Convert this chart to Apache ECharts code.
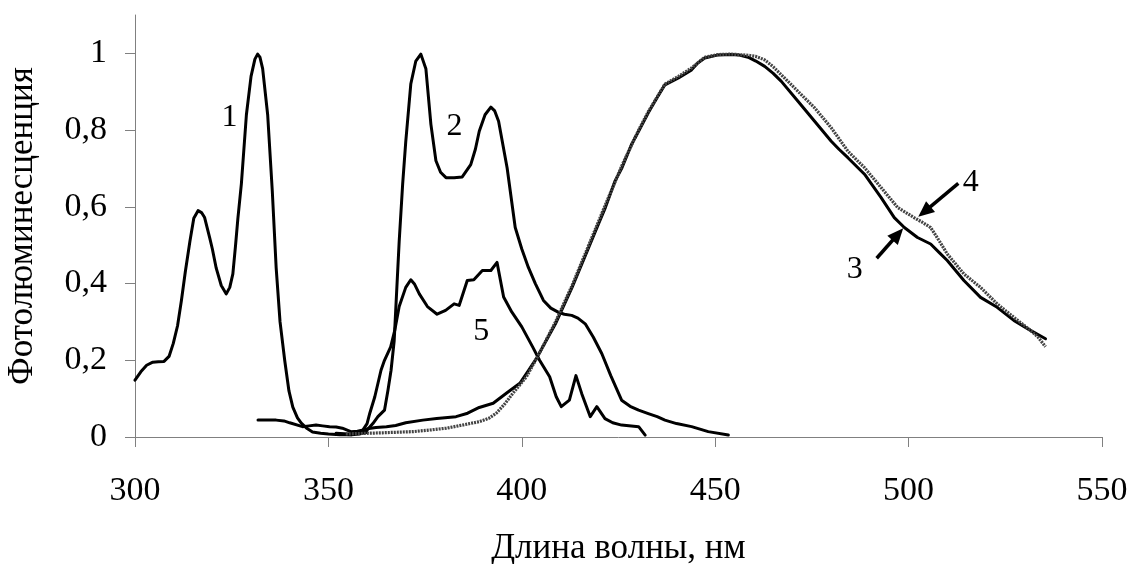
<!DOCTYPE html>
<html>
<head>
<meta charset="utf-8">
<script src="https://cdn.jsdelivr.net/npm/echarts@6/dist/echarts.min.js"></script>
<style>
  html, body { margin: 0; padding: 0; background: #fff; }
  #chart { width: 1131px; height: 564px; }
</style>
</head>
<body>
<div id="chart"></div>
<script>
// Photoluminescence spectra, normalised intensity vs wavelength (nm)
const xTicks = [300, 350, 400, 450, 500, 550];
const yTicks = [0, 0.2, 0.4, 0.6, 0.8, 1];

const curve1 = [[300,0.148],[301.5,0.17],[303,0.187],[304.6,0.195],[306,0.196],[307.5,0.197],[308.8,0.21],[309.9,0.244],[311,0.29],[312,0.356],[313,0.43],[314.2,0.51],[315.2,0.57],[316.3,0.59],[317.2,0.585],[318,0.572],[319.3,0.52],[320,0.49],[321,0.44],[322.3,0.395],[323.6,0.373],[324.5,0.39],[325.3,0.425],[326,0.5],[326.6,0.57],[327.5,0.66],[328.8,0.84],[330,0.94],[331,0.985],[331.7,0.998],[332.3,0.99],[333,0.96],[334.3,0.84],[335.5,0.64],[336.5,0.44],[337.5,0.3],[338.7,0.2],[339.8,0.12],[340.8,0.078],[342,0.05],[343,0.036],[344.5,0.022],[345.9,0.013],[348,0.01],[350,0.008],[353,0.006],[356,0.006],[358,0.008],[360,0.012]];

const curve2 = [[352,0.01],[355,0.008],[358,0.01],[360,0.018],[361.5,0.035],[362.8,0.053],[364.5,0.07],[365.4,0.122],[366.2,0.174],[367,0.25],[368.3,0.51],[369.2,0.66],[370,0.77],[371.3,0.92],[372.6,0.98],[373.9,0.998],[375.2,0.96],[376.5,0.815],[377.8,0.72],[379,0.69],[380.4,0.676],[382.5,0.676],[384.6,0.678],[386.8,0.71],[388,0.75],[389,0.797],[390.5,0.84],[392,0.86],[393,0.85],[394,0.823],[396.2,0.702],[398.3,0.546],[400,0.49],[401.7,0.442],[403.5,0.4],[405.6,0.356],[407.5,0.336],[409.5,0.325],[411,0.32],[412.9,0.317],[414.5,0.31],[416.4,0.295],[418.5,0.26],[420.7,0.217],[423,0.16],[425.8,0.096],[428,0.08],[430.2,0.07],[432.7,0.061],[435,0.053],[437,0.044],[440,0.035],[443.9,0.027],[448.2,0.014],[453.4,0.005]];

const curve3 = [[331.8,0.044],[336.5,0.044],[338.5,0.042],[340,0.037],[343.3,0.027],[345,0.029],[346.8,0.031],[348.5,0.029],[350.3,0.027],[352,0.026],[353.6,0.023],[355.8,0.014],[357.5,0.015],[358.8,0.018],[360.5,0.022],[362.3,0.025],[365,0.027],[367.4,0.03],[370,0.037],[374.4,0.044],[378,0.048],[383,0.053],[386,0.062],[389,0.077],[392.6,0.088],[396,0.114],[399.5,0.14],[401.5,0.17],[403.8,0.205],[408.7,0.295],[413,0.39],[417.3,0.494],[419.8,0.555],[421.6,0.598],[424.1,0.667],[425.9,0.702],[428.4,0.763],[430.2,0.797],[432.7,0.845],[435,0.885],[437,0.918],[440.5,0.936],[443.9,0.957],[445.5,0.975],[447.3,0.988],[450.8,0.996],[454.2,0.997],[456,0.996],[458.5,0.99],[460.5,0.98],[462.8,0.966],[465,0.948],[467.1,0.927],[471.4,0.875],[475.7,0.823],[480,0.771],[482,0.75],[484.3,0.728],[488.6,0.685],[492.9,0.624],[496.3,0.572],[498.9,0.546],[502.3,0.52],[505.7,0.503],[508,0.48],[510,0.46],[514.3,0.408],[518.6,0.364],[522.9,0.338],[527.2,0.304],[531.5,0.278],[535.4,0.256]];

const curve4 = [[354.5,0.008],[358,0.009],[364,0.011],[371.9,0.014],[376,0.018],[380.5,0.023],[384.6,0.031],[389,0.04],[391.5,0.049],[393.4,0.062],[395.5,0.085],[397.7,0.114],[401.2,0.157],[404,0.208],[408.7,0.3],[413,0.395],[417.3,0.5],[421.6,0.605],[425.9,0.708],[430.2,0.8],[432.7,0.848],[437,0.92],[440.5,0.94],[443.9,0.962],[447.3,0.99],[450.8,0.997],[454.2,0.998],[458.5,0.995],[460.5,0.992],[462.8,0.983],[465,0.965],[467.1,0.944],[471.4,0.901],[475.7,0.858],[480,0.806],[484.3,0.745],[488.6,0.702],[492.9,0.65],[497.2,0.598],[501.4,0.572],[503.5,0.56],[505.7,0.546],[508,0.51],[510,0.477],[514.3,0.425],[518.6,0.39],[522.9,0.347],[527.2,0.312],[531.5,0.278],[533.5,0.26],[535.4,0.235]];

const curve5 = [[352,0.008],[356,0.006],[358.9,0.018],[360,0.035],[360.7,0.062],[362,0.105],[363.6,0.174],[364.5,0.2],[366.1,0.235],[367.2,0.28],[368.3,0.34],[370,0.39],[371.3,0.41],[372.3,0.398],[373.5,0.373],[375.6,0.34],[378.1,0.32],[380.3,0.33],[382.5,0.347],[383.8,0.343],[385,0.38],[385.9,0.408],[387.6,0.41],[389.8,0.434],[392,0.434],[393.6,0.455],[395.3,0.365],[397.4,0.326],[400,0.287],[402.8,0.235],[404.6,0.2],[407.2,0.157],[408.9,0.105],[410.2,0.079],[412.3,0.096],[414,0.16],[415.5,0.113],[417.7,0.053],[419.4,0.079],[421.5,0.048],[423.5,0.037],[425.8,0.031],[430.2,0.027],[431.9,0.005]];

// curve numbers, placed in data units
const curveTags = ['1', '2', '3', '4', '5'];
const curveTagX = [324.4, 382.6, 486.1, 516.1, 389.5];
const curveTagY = [0.832, 0.81, 0.4375, 0.663, 0.276];

// pointer arrows for curves 3 and 4: [tailX, tailY, tipX, tipY]
const arrow3 = [491.75, 0.466, 498.6, 0.544];
const arrow4 = [512.85, 0.661, 502.5, 0.574];

const FONT = '"Liberation Serif", "Times New Roman", serif';
const AXIS_GREY = '#808080';

const chart = echarts.init(document.getElementById('chart'), null, { renderer: 'canvas' });

const solid = (data) => ({
  type: 'line',
  data: data,
  showSymbol: false,
  symbol: 'none',
  smooth: false,
  silent: true,
  lineStyle: { color: '#000', width: 3, join: 'round', cap: 'round' },
  z: 3
});

chart.setOption({
  animation: false,
  backgroundColor: '#fff',
  grid: { left: 135, right: 29, top: 15, bottom: 127, containLabel: false, outerBoundsMode: 'none' },
  xAxis: {
    type: 'value',
    min: 300,
    max: 550,
    interval: 50,
    name: 'Длина волны, нм',
    nameLocation: 'middle',
    nameGap: 94,
    nameTextStyle: { fontFamily: FONT, fontSize: 35, color: '#000' },
    axisLine: { lineStyle: { color: AXIS_GREY, width: 1 } },
    axisTick: { show: true, inside: false, length: 10, lineStyle: { color: AXIS_GREY, width: 1 } },
    axisLabel: {
      fontFamily: FONT, fontSize: 34, color: '#000', margin: 37,
      customValues: xTicks
    },
    splitLine: { show: false }
  },
  yAxis: {
    type: 'value',
    min: 0,
    max: 1.1,
    interval: 0.2,
    name: 'Фотолюминесценция',
    nameLocation: 'middle',
    nameGap: 95,
    nameTextStyle: { fontFamily: FONT, fontSize: 35, color: '#000' },
    axisLine: { show: true, lineStyle: { color: AXIS_GREY, width: 1 } },
    axisTick: { show: true, inside: false, length: 10, lineStyle: { color: AXIS_GREY, width: 1 }, customValues: yTicks },
    axisLabel: {
      fontFamily: FONT, fontSize: 34, color: '#000', margin: 28,
      customValues: yTicks,
      formatter: (v) => String(Math.round(v * 10) / 10).replace('.', ',')
    },
    splitLine: { show: false }
  },
  series: [
    solid(curve1),
    solid(curve2),
    solid(curve3),
    {
      type: 'line',
      data: curve4,
      showSymbol: false,
      symbol: 'none',
      silent: true,
      lineStyle: { color: '#444', width: 3.2, type: [2, 1] },
      z: 4
    },
    solid(curve5)
  ]
});

// Curve numbers and arrows, positioned through the grid's coordinate system
function drawNotes() {
  const toPx = (x, y) => chart.convertToPixel({ gridIndex: 0 }, [x, y]);
  const elements = [];
  curveTags.forEach((t, i) => {
    const p = toPx(curveTagX[i], curveTagY[i]);
    elements.push({
      type: 'text',
      x: p[0], y: p[1],
      silent: true,
      style: {
        text: t, fill: '#000',
        font: '32px ' + FONT,
        align: 'center', verticalAlign: 'middle'
      },
      z: 10
    });
  });
  [arrow3, arrow4].forEach((a) => {
    const tail = toPx(a[0], a[1]);
    const tip = toPx(a[2], a[3]);
    const dx = tip[0] - tail[0], dy = tip[1] - tail[1];
    const len = Math.hypot(dx, dy);
    const ux = dx / len, uy = dy / len;
    const headLen = 16, headHalf = 7;
    const bx = tip[0] - ux * headLen, by = tip[1] - uy * headLen;
    elements.push({
      type: 'line', silent: true, z: 10,
      shape: { x1: tail[0], y1: tail[1], x2: bx + ux * 2, y2: by + uy * 2 },
      style: { stroke: '#000', lineWidth: 3.5 }
    });
    elements.push({
      type: 'polygon', silent: true, z: 10,
      shape: { points: [
        [tip[0], tip[1]],
        [bx - uy * headHalf, by + ux * headHalf],
        [bx + uy * headHalf, by - ux * headHalf]
      ] },
      style: { fill: '#000' }
    });
  });
  chart.setOption({ graphic: { elements: elements } });
}
drawNotes();
</script>
</body>
</html>
